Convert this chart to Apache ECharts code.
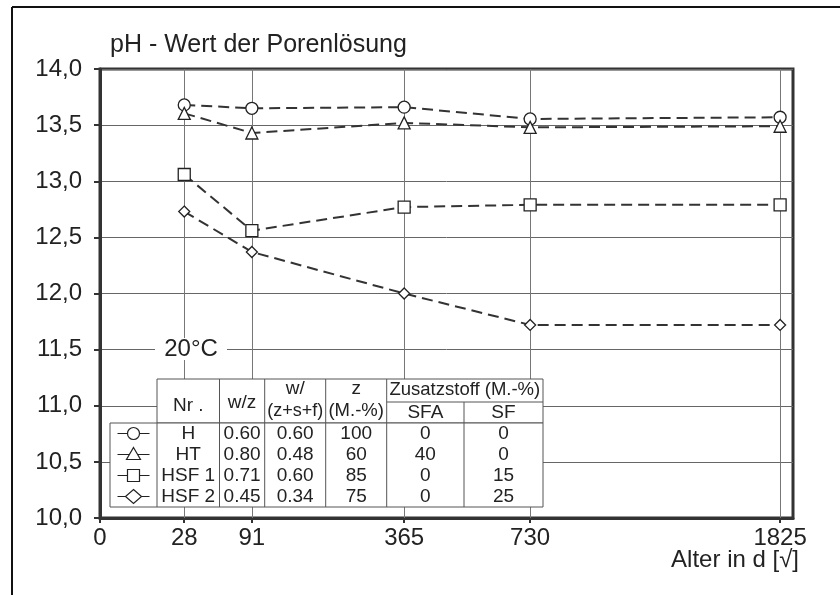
<!DOCTYPE html>
<html>
<head>
<meta charset="utf-8">
<script src="https://cdn.jsdelivr.net/npm/echarts@6/dist/echarts.min.js"></script>
<style>html,body{margin:0;padding:0;background:#fff;}#c{width:840px;height:595px;}</style>
</head>
<body>
<div id="c"></div>
<script>
// ---- data ----
const days = [28, 91, 365, 730, 1825];
const xTickDays = [0, 28, 91, 365, 730, 1825];
const xTickLabels = ['0', '28', '91', '365', '730', '1825'];
const seriesNames = ['H', 'HT', 'HSF 1', 'HSF 2'];
const pH_H    = [13.68, 13.65, 13.66, 13.555, 13.57];
const pH_HT   = [13.605, 13.43, 13.52, 13.48, 13.49];
const pH_HSF1 = [13.06, 12.56, 12.77, 12.79, 12.79];
const pH_HSF2 = [12.73, 12.37, 12.00, 11.72, 11.72];
const tableNr   = ['H', 'HT', 'HSF 1', 'HSF 2'];
const tableWZ   = ['0.60', '0.80', '0.71', '0.45'];
const tableWZSF = ['0.60', '0.48', '0.60', '0.34'];
const tableZ    = ['100', '60', '85', '75'];
const tableSFA  = ['0', '40', '0', '0'];
const tableSF   = ['0', '0', '15', '25'];
const titleText = 'pH - Wert der Porenlösung';
const xName = 'Alter in d [√]';
const tempLabel = '20°C';

// ---- helpers ----
const FONT = '"Liberation Sans", Arial, sans-serif';
const sq = d => Math.sqrt(d);
const xTickPos = xTickDays.map(sq);
const seriesValues = [pH_H, pH_HT, pH_HSF1, pH_HSF2];
const symbols = ['circle', 'triangle', 'rect', 'diamond'];
const symSizes = [12, 12, 12, 11];

const chart = echarts.init(document.getElementById('c'), null, {renderer: 'canvas'});

// ---- table graphic ----
const g = [];
const cols = [110, 157, 219.5, 264.7, 325.7, 386.7, 464, 543];
const yTop = 379, ySub = 402, yBody = 423, yBot = 507;
const rowH = (yBot - yBody) / 4;
const lineCol = '#555';
const tZ = 50;
g.push({type: 'rect', z: tZ, shape: {x: cols[1], y: yTop, width: cols[7] - cols[1], height: yBody - yTop}, style: {fill: '#fff', stroke: lineCol, lineWidth: 1}});
g.push({type: 'rect', z: tZ, shape: {x: cols[0], y: yBody, width: cols[7] - cols[0], height: yBot - yBody}, style: {fill: '#fff', stroke: lineCol, lineWidth: 1}});
for (let i = 1; i < 7; i++) {
  const y1 = (i === 1) ? yBody : (i === 6 ? ySub : yTop);
  g.push({type: 'line', z: tZ + 1, shape: {x1: cols[i], y1: y1, x2: cols[i], y2: yBot}, style: {stroke: lineCol, lineWidth: 1}});
}
g.push({type: 'line', z: tZ + 1, shape: {x1: cols[5], y1: ySub, x2: cols[7], y2: ySub}, style: {stroke: lineCol, lineWidth: 1}});
function txt(t, x, y, size) {
  g.push({type: 'text', z: tZ + 2, x: x, y: y, style: {text: t, font: (size || 19) + 'px ' + FONT, fill: '#222', align: 'center', verticalAlign: 'middle', textAlign: 'center', textVerticalAlign: 'middle'}});
}
const cx = i => (cols[i] + cols[i + 1]) / 2;
txt('Nr .', cx(1), 406);
txt('w/z', cx(2), 403);
txt('w/', cx(3), 389); txt('(z+s+f)', cx(3), 411, 18);
txt('z', cx(4), 389); txt('(M.-%)', cx(4), 411, 18.5);
txt('Zusatzstoff (M.-%)', (cols[5] + cols[7]) / 2, 390, 18.5);
txt('SFA', cx(5), 413); txt('SF', cx(6), 413);
const colsData = [tableNr, tableWZ, tableWZSF, tableZ, tableSFA, tableSF];
for (let r = 0; r < 4; r++) {
  const yc = yBody + rowH * (r + 0.5);
  colsData.forEach((arr, ci) => txt(arr[r], cx(ci + 1), yc));
  // legend symbol
  const sx = cx(0);
  g.push({type: 'line', z: tZ + 1, shape: {x1: sx - 16, y1: yc, x2: sx + 16, y2: yc}, style: {stroke: '#222', lineWidth: 1.2}});
  const st = {fill: '#fff', stroke: '#222', lineWidth: 1.2};
  if (r === 0) g.push({type: 'circle', z: tZ + 2, shape: {cx: sx, cy: yc, r: 6}, style: st});
  if (r === 1) g.push({type: 'polygon', z: tZ + 2, shape: {points: [[sx, yc - 7], [sx + 7, yc + 5], [sx - 7, yc + 5]]}, style: st});
  if (r === 2) g.push({type: 'rect', z: tZ + 2, shape: {x: sx - 6, y: yc - 6, width: 12, height: 12}, style: st});
  if (r === 3) g.push({type: 'polygon', z: tZ + 2, shape: {points: [[sx, yc - 7], [sx + 8, yc], [sx, yc + 7], [sx - 8, yc]]}, style: st});
}
// 20°C label
g.push({type: 'rect', z: tZ, shape: {x: 155, y: 338, width: 72, height: 22}, style: {fill: '#fff'}});
g.push({type: 'text', z: tZ + 2, x: 191, y: 349, style: {text: tempLabel, font: '24px ' + FONT, fill: '#222', align: 'center', verticalAlign: 'middle', textAlign: 'center', textVerticalAlign: 'middle'}});
// x axis name
g.push({type: 'text', z: tZ + 2, x: 799, y: 560, style: {text: xName, font: '24px ' + FONT, fill: '#222', align: 'right', verticalAlign: 'middle', textAlign: 'right', textVerticalAlign: 'middle'}});
// outer frame
g.push({type: 'line', z: tZ, shape: {x1: 12, y1: 7, x2: 840, y2: 7}, style: {stroke: '#111', lineWidth: 2}});
g.push({type: 'line', z: tZ, shape: {x1: 12, y1: 7, x2: 12, y2: 595}, style: {stroke: '#111', lineWidth: 2}});

const series = seriesNames.map((n, i) => ({
  name: n,
  type: 'line',
  data: days.map((d, j) => [sq(d), seriesValues[i][j]]),
  symbol: symbols[i],
  symbolSize: symSizes[i],
  showAllSymbol: true,
  z: 5,
  lineStyle: {color: '#333', width: 2, type: [11, 6]},
  itemStyle: {color: '#fff', borderColor: '#222', borderWidth: 1.3},
  emphasis: {disabled: true},
  animation: false
}));
series.push({
  name: 'grid',
  type: 'line',
  data: [],
  z: 1,
  silent: true,
  animation: false,
  markLine: {
    silent: true, symbol: 'none', animation: false,
    label: {show: false},
    lineStyle: {color: '#777', width: 1, type: 'solid'},
    data: days.map(d => ({xAxis: sq(d)}))
  }
});

chart.setOption({
  animation: false,
  backgroundColor: '#fff',
  title: {
    text: titleText, left: 105, top: 28,
    textStyle: {fontFamily: FONT, fontSize: 25, fontWeight: 'normal', color: '#222'}
  },
  grid: {left: 100, top: 69, right: 47, bottom: 77, show: true, borderColor: '#333', borderWidth: 3, backgroundColor: 'transparent', outerBoundsMode: 'none', containLabel: false},
  xAxis: {
    type: 'value', min: 0, max: 43.53,
    splitLine: {show: false},
    axisLine: {show: true, lineStyle: {color: '#333', width: 3}},
    axisTick: {show: true, customValues: xTickPos, length: 5, lineStyle: {color: '#333', width: 2}},
    axisLabel: {
      customValues: xTickPos, margin: 8, fontFamily: FONT, fontSize: 24, color: '#222',
      formatter: v => { const i = xTickPos.findIndex(p => Math.abs(p - v) < 1e-6); return i >= 0 ? xTickLabels[i] : ''; }
    }
  },
  yAxis: {
    type: 'value', min: 10, max: 14, interval: 0.5,
    splitLine: {show: true, lineStyle: {color: '#666', width: 1}},
    axisLine: {show: true, lineStyle: {color: '#333', width: 3}},
    axisTick: {show: true, length: 6, lineStyle: {color: '#333', width: 2}},
    axisLabel: {margin: 18, fontFamily: FONT, fontSize: 24, color: '#222', formatter: v => v.toFixed(1).replace('.', ',')}
  },
  graphic: {elements: g},
  series: series
});
</script>
</body>
</html>
